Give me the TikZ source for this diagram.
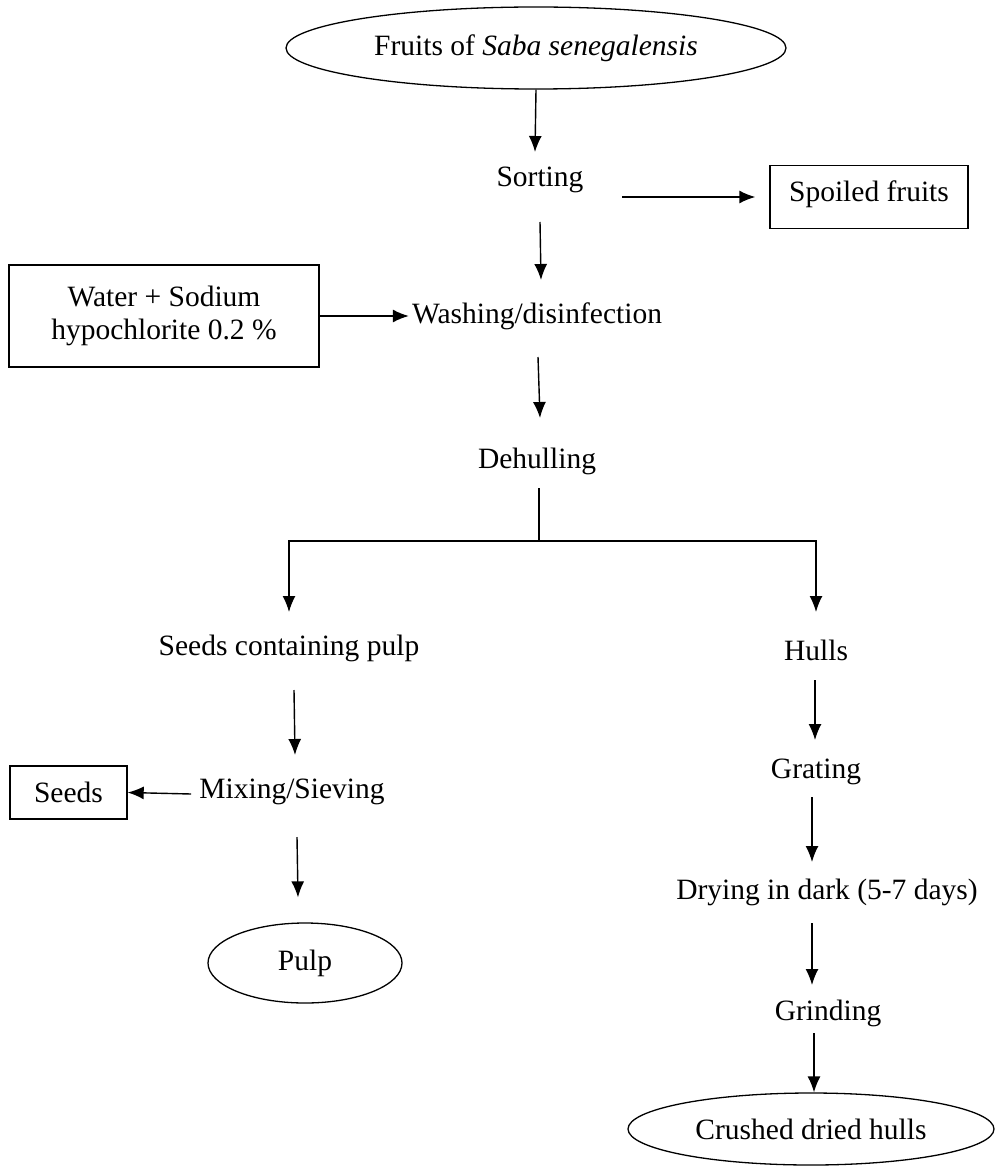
\documentclass[tikz,border=0pt]{standalone}
\usepackage{fontspec}
\setmainfont{Liberation Serif}
\usetikzlibrary{shapes.geometric,arrows.meta,calc}
\begin{document}
\begin{tikzpicture}[x=1pt,y=-1pt,
  every node/.style={font=\fontsize{29.5}{33}\selectfont},
  txt/.style={inner sep=0pt},
  box/.style={draw,line width=1.4pt,inner sep=0pt,align=center},
  oval/.style={draw,ellipse,line width=1.3pt,inner sep=0pt},
  arr/.style={-{Latex[length=16pt,width=13pt]},line width=1.4pt},
  ln/.style={line width=1.4pt}]
\useasboundingbox (0,0) rectangle (995,1166);

% nodes
\node[oval,minimum width=500pt,minimum height=82pt] (fruits) at (536,48) {Fruits of \textit{Saba senegalensis}};
\node[txt] (sorting) at (540,180) {Sorting};
\node[box,minimum width=198pt,minimum height=63pt] (spoiled) at (869,197) {\raisebox{11pt}{Spoiled fruits}};
\node[box,minimum width=310pt,minimum height=102pt] (water) at (164,316) {Water + Sodium\\hypochlorite 0.2 \%};
\node[txt] (washing) at (537,316) {Washing/disinfection};
\node[txt] (dehull) at (537,461) {Dehulling};
\node[txt] (seedsp) at (289,648) {Seeds containing pulp};
\node[txt] (hulls) at (816,650) {Hulls};
\node[txt] (mixing) at (292,792) {Mixing/Sieving};
\node[box,minimum width=117pt,minimum height=53pt] (seeds) at (68.5,792.5) {Seeds};
\node[oval,minimum width=194pt,minimum height=80pt] (pulp) at (305,963) {Pulp};
\node[txt] (grating) at (816,772) {Grating};
\node[txt] (drying) at (827,892) {Drying in dark (5-7 days)};
\node[txt] (grinding) at (828,1013) {Grinding};
\node[oval,minimum width=366pt,minimum height=72pt] (crushed) at (811,1129) {\raisebox{-5pt}{Crushed dried hulls}};

% connectors
\draw[arr] (fruits.south) -- ($(sorting)+(-5,-28)$);
\draw[arr] ($(sorting)+(82,17)$) -- ($(spoiled.west)+(-14,0)$);
\draw[arr] ($(sorting)+(0,42)$) -- ($(washing)+(4,-36)$);
\draw[arr] (water.east) -- ($(washing.west)+(-3,0)$);
\draw[arr] ($(washing)+(1,41)$) -- ($(dehull)+(3,-43)$);
\coordinate (split) at ($(dehull)+(2,80)$);
\draw[ln] ($(dehull)+(2,27)$) -- (split);
\draw[arr] (split) -| ($(seedsp)+(0,-36)$);
\draw[arr] (split) -| ($(hulls)+(0,-38)$);
\draw[arr] ($(seedsp)+(5,42)$) -- ($(mixing)+(3,-37)$);
\draw[arr] ($(mixing.west)+(-8,2)$) -- (seeds.east);
\draw[arr] ($(mixing)+(5,45)$) -- ($(pulp.north)+(-7,-25)$);
\draw[arr] ($(hulls)+(-1,30)$) -- ($(grating)+(-1,-32)$);
\draw[arr] ($(grating)+(-4,25)$) -- ($(drying)+(-15,-30)$);
\draw[arr] ($(drying)+(-15,31)$) -- ($(grinding)+(-16,-28)$);
\draw[arr] ($(grinding)+(-14,20)$) -- ($(crushed.north)+(3,0)$);
\end{tikzpicture}
\end{document}
